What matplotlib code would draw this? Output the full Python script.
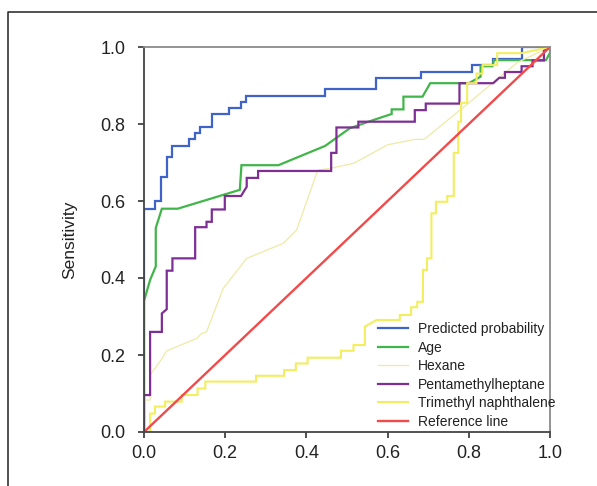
import matplotlib
matplotlib.use("Agg")
import matplotlib.pyplot as plt
from matplotlib.lines import Line2D

plt.rcParams['font.family'] = ['Liberation Sans', 'DejaVu Sans']

# ROC curves as (1 - specificity, sensitivity) corner points
predicted = [(0, 0), (0, 0.58), (0.028, 0.58), (0.028, 0.60), (0.042, 0.60), (0.042, 0.662),
             (0.056, 0.662), (0.056, 0.714), (0.07, 0.714), (0.07, 0.743), (0.111, 0.743),
             (0.111, 0.76), (0.125, 0.76), (0.125, 0.776), (0.139, 0.776), (0.139, 0.793),
             (0.167, 0.793), (0.167, 0.825), (0.21, 0.825), (0.21, 0.842), (0.238, 0.842),
             (0.238, 0.857), (0.252, 0.857), (0.252, 0.873), (0.445, 0.873), (0.445, 0.89),
             (0.571, 0.89), (0.571, 0.92), (0.682, 0.92), (0.682, 0.936), (0.807, 0.936),
             (0.807, 0.954), (0.86, 0.954), (0.86, 0.968), (0.93, 0.968), (0.93, 1.0), (1.0, 1.0)]

age = [(0, 0), (0, 0.34), (0.015, 0.395), (0.029, 0.43), (0.029, 0.53), (0.044, 0.58),
       (0.083, 0.58), (0.236, 0.629), (0.24, 0.693), (0.331, 0.693), (0.446, 0.743),
       (0.507, 0.789), (0.564, 0.81), (0.61, 0.826), (0.61, 0.838), (0.639, 0.838),
       (0.639, 0.871), (0.686, 0.871), (0.705, 0.906), (0.80, 0.906), (0.829, 0.923),
       (0.829, 0.95), (0.858, 0.95), (0.862, 0.966), (0.99, 0.966), (1.0, 0.985), (1.0, 1.0)]

hexane = [(0, 0), (0, 0.083), (0.015, 0.083), (0.015, 0.148), (0.044, 0.19), (0.056, 0.211),
          (0.13, 0.243), (0.142, 0.256), (0.154, 0.26), (0.195, 0.373), (0.253, 0.451),
          (0.343, 0.49), (0.376, 0.525), (0.428, 0.68), (0.46, 0.685), (0.517, 0.698),
          (0.6, 0.746), (0.667, 0.76), (0.69, 0.76), (0.80, 0.855), (0.92, 0.96), (1.0, 1.0)]

pentamethylheptane = [(0, 0), (0, 0.096), (0.015, 0.096), (0.015, 0.26), (0.044, 0.26),
                      (0.044, 0.308), (0.056, 0.319), (0.056, 0.419), (0.07, 0.419),
                      (0.07, 0.451), (0.126, 0.451), (0.126, 0.532), (0.154, 0.532),
                      (0.154, 0.546), (0.167, 0.546), (0.167, 0.578), (0.199, 0.578),
                      (0.199, 0.613), (0.239, 0.613), (0.253, 0.637), (0.253, 0.66),
                      (0.281, 0.66), (0.281, 0.678), (0.461, 0.678), (0.461, 0.725),
                      (0.474, 0.725), (0.474, 0.791), (0.528, 0.791), (0.528, 0.806),
                      (0.667, 0.806), (0.667, 0.836), (0.694, 0.836), (0.694, 0.853),
                      (0.777, 0.853), (0.777, 0.906), (0.86, 0.906), (0.875, 0.92),
                      (0.889, 0.92), (0.889, 0.935), (0.93, 0.935), (0.93, 0.95),
                      (0.957, 0.95), (0.957, 0.965), (0.985, 0.965), (0.985, 0.99), (1.0, 1.0)]

trimethyl = [(0, 0), (0.015, 0), (0.015, 0.048), (0.027, 0.048), (0.027, 0.066), (0.052, 0.066),
             (0.052, 0.079), (0.093, 0.079), (0.093, 0.096), (0.132, 0.096), (0.132, 0.113),
             (0.151, 0.113), (0.151, 0.131), (0.276, 0.131), (0.276, 0.146), (0.345, 0.146),
             (0.345, 0.161), (0.374, 0.161), (0.374, 0.178), (0.403, 0.178), (0.403, 0.193),
             (0.485, 0.193), (0.485, 0.211), (0.516, 0.211), (0.516, 0.226), (0.544, 0.226),
             (0.544, 0.274), (0.573, 0.291), (0.63, 0.291), (0.63, 0.304), (0.658, 0.304),
             (0.658, 0.324), (0.673, 0.324), (0.673, 0.338), (0.687, 0.338), (0.687, 0.421),
             (0.697, 0.421), (0.697, 0.451), (0.708, 0.451), (0.708, 0.568), (0.719, 0.568),
             (0.719, 0.598), (0.747, 0.598), (0.747, 0.613), (0.763, 0.613), (0.763, 0.725),
             (0.774, 0.725), (0.774, 0.806), (0.781, 0.806), (0.781, 0.855), (0.796, 0.855),
             (0.796, 0.906), (0.819, 0.906), (0.819, 0.931), (0.834, 0.931), (0.834, 0.953),
             (0.87, 0.953), (0.87, 0.984), (0.93, 0.984), (1.0, 1.0)]

reference = [(0, 0), (1, 1)]

labels = ["Predicted probability", "Age", "Hexane", "Pentamethylheptane",
          "Trimethyl naphthalene", "Reference line"]
series = [predicted, age, hexane, pentamethylheptane, trimethyl, reference]
colors = ["#3f63c8", "#40b54a", "#eeeaa6", "#7e2f95", "#f2ee5e", "#f24a4a"]
widths = [1.6, 1.6, 0.9, 1.6, 1.5, 1.7]

fig = plt.figure(figsize=(5.97, 4.86), dpi=100)
ax = fig.add_axes([144 / 597, 1 - 432 / 486, 406 / 597, 385 / 486])

for pts, lab, c, lw in zip(series, labels, colors, widths):
    xs = [p[0] for p in pts]
    ys = [p[1] for p in pts]
    ax.plot(xs, ys, color=c, lw=lw, label=lab, solid_joinstyle='miter')

ax.set_xlim(0, 1)
ax.set_ylim(0, 1)
ticks = [0.0, 0.2, 0.4, 0.6, 0.8, 1.0]
ax.set_xticks(ticks)
ax.set_yticks(ticks)
ax.set_xticklabels([f"{t:.1f}" for t in ticks])
ax.set_yticklabels([f"{t:.1f}" for t in ticks])
ax.tick_params(axis='both', direction='out', length=4.5, width=1.1, color='#222222',
               labelsize=13, labelcolor='#222222')
ax.tick_params(axis='y', pad=9)
ax.tick_params(axis='x', pad=5)

for side in ['left', 'bottom']:
    ax.spines[side].set_color('#444444')
    ax.spines[side].set_linewidth(1.3)
for side in ['top', 'right']:
    ax.spines[side].set_color('#8a8a8a')
    ax.spines[side].set_linewidth(1.3)

ax.set_ylabel("Sensitivity", fontsize=12.5, color='#222222')
ax.yaxis.set_label_coords(-0.165, 0.5)

ax.legend(loc='lower left', bbox_to_anchor=(0.576, 0.008), frameon=False, fontsize=10,
          handlelength=2.15, handletextpad=0.72, labelspacing=0.33, borderpad=0,
          borderaxespad=0, labelcolor='#222222')

# outer frame of the figure panel
fig.add_artist(Line2D([7.5 / 597, 7.5 / 597, 1.05], [-0.05, 1 - 12.5 / 486, 1 - 12.5 / 486],
                      transform=fig.transFigure, color='#222222', lw=1.1))

fig.savefig("out.png", dpi=100)
